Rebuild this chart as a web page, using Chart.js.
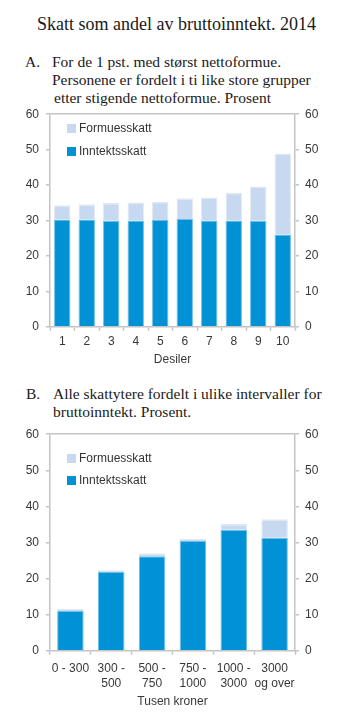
<!DOCTYPE html>
<html><head><meta charset="utf-8">
<script src="https://cdn.jsdelivr.net/npm/chart.js@4/dist/chart.umd.min.js"></script>
<style>
body{margin:0;width:353px;height:723px;background:#fff;position:relative;overflow:hidden;font-family:"Liberation Sans",Arial,sans-serif}
.t{position:absolute;font-family:"Liberation Serif","Times New Roman",serif;color:#1a1a1a;white-space:nowrap;line-height:1}
.box{position:absolute;left:0;width:353px}
.leg{position:absolute;font-size:12px;color:#333;line-height:12px;white-space:nowrap}
.leg i{position:absolute;left:-12px;top:1.5px;width:9px;height:9px}
</style></head><body>
<div class="t" style="top:15px;left:0;width:353px;text-align:center;font-size:18px">Skatt som andel av bruttoinntekt. 2014</div>
<div class="t" style="top:54px;left:25px;font-size:15.5px">A.</div>
<div class="t" style="top:54px;left:52px;font-size:15.5px">For de 1 pst. med størst nettoformue.</div>
<div class="t" style="top:72px;left:52px;font-size:15.5px">Personene er fordelt i ti like store grupper</div>
<div class="t" style="top:90px;left:54px;font-size:15.5px">etter stigende nettoformue. Prosent</div>
<div class="t" style="top:386px;left:26px;font-size:15.5px">B.</div>
<div class="t" style="top:386px;left:53px;font-size:15.5px">Alle skattytere fordelt i ulike intervaller for</div>
<div class="t" style="top:404px;left:53px;font-size:15.5px">bruttoinntekt. Prosent.</div>

<div class="box" style="top:100px;height:270px"><canvas id="cA"></canvas></div>
<div class="box" style="top:420px;height:290px"><canvas id="cB"></canvas></div>

<div class="leg" style="left:79px;top:122px"><i style="background:#c6d9f1"></i>Formuesskatt</div>
<div class="leg" style="left:79px;top:145px"><i style="background:#0092d4"></i>Inntektsskatt</div>
<div class="leg" style="left:79px;top:452px"><i style="background:#c6d9f1"></i>Formuesskatt</div>
<div class="leg" style="left:79px;top:474px"><i style="background:#0092d4"></i>Inntektsskatt</div>

<script>
const catsA = ['1','2','3','4','5','6','7','8','9','10'];
const inntektA = [30.3,30.3,29.9,30.0,30.1,30.4,30.0,30.0,29.9,26.0];
const formueA = [4.0,4.3,5.0,5.1,5.2,5.9,6.5,7.8,9.7,22.9];

const catsB = ['0 - 300',['300 -','500'],['500 -','750'],['750 -','1000'],['1000 -','3000'],['3000','og over']];
const inntektB = [11.0,21.8,26.2,30.4,33.5,31.3];
const formueB = [0.6,0.5,0.8,0.6,1.6,5.1];

const yMin = 0, yMax = 60, yStep = 10;
const titleA = 'Desiler';
const titleB = 'Tusen kroner';

const AX = '#c4c4c4';
const TXT = '#383838';
const FONT = {family:'"Liberation Sans", Arial, sans-serif', size:12};

function build(id, cats, inn, form, barPct, topPad, xHeight, xTitle, titlePadBottom, tickPad) {
  const yCommon = (pos) => ({
    position: pos, min: yMin, max: yMax,
    ticks: {stepSize: yStep, color: TXT, font: FONT, padding: pos==='left'?7:6},
    border: {display: true, color: AX, width: 1.5},
    grid: {
      drawOnChartArea: pos==='left',
      color: (c) => (c.tick && c.tick.value === yMax) ? AX : 'rgba(0,0,0,0)',
      lineWidth: 1.5,
      tickColor: AX, tickLength: 4, tickWidth: 1.5
    },
    afterFit: (s) => { s.width = pos==='left' ? 50 : 58; }
  });
  new Chart(document.getElementById(id), {
    type: 'bar',
    data: {
      labels: cats,
      datasets: [
        {label:'Inntektsskatt', data: inn, backgroundColor:'#0092d4', borderColor:'#6fbfe9',
         borderWidth:{top:1,left:1,right:1,bottom:0}, borderSkipped:false, yAxisID:'y'},
        {label:'Formuesskatt', data: form, backgroundColor:'#c6d9f1', borderColor:'#e2e8ef',
         borderWidth:{top:1.5,left:1,right:1,bottom:0}, borderSkipped:false, yAxisID:'y'}
      ]
    },
    options: {
      responsive: true, maintainAspectRatio: false, animation: false,
      devicePixelRatio: 1,
      layout: {padding: {top: topPad, left: 0, right: 0, bottom: 0}},
      plugins: {legend: {display: false}, tooltip: {enabled: false}},
      datasets: {bar: {categoryPercentage: 1, barPercentage: barPct}},
      scales: {
        x: {
          stacked: true,
          ticks: {color: TXT, font: FONT, padding: tickPad, maxRotation: 0, autoSkip: false},
          border: {display: true, color: AX, width: 1.5},
          grid: {drawOnChartArea: false, offset: true, tickColor: AX, tickLength: 4, tickWidth: 1.5},
          title: {display: true, text: xTitle, color: TXT, font: FONT, padding: {top: 0, bottom: titlePadBottom}},
          afterFit: (s) => { s.height = xHeight; }
        },
        y: Object.assign(yCommon('left'), {stacked: true}),
        y2: yCommon('right')
      }
    }
  });
}

build('cA', catsA, inntektA, formueA, 0.67, 9, 43.3, titleA, 3, 4);
build('cB', catsB, inntektB, formueB, 0.65, 13.3, 59.3, titleB, 1, 7);
</script>
</body></html>
